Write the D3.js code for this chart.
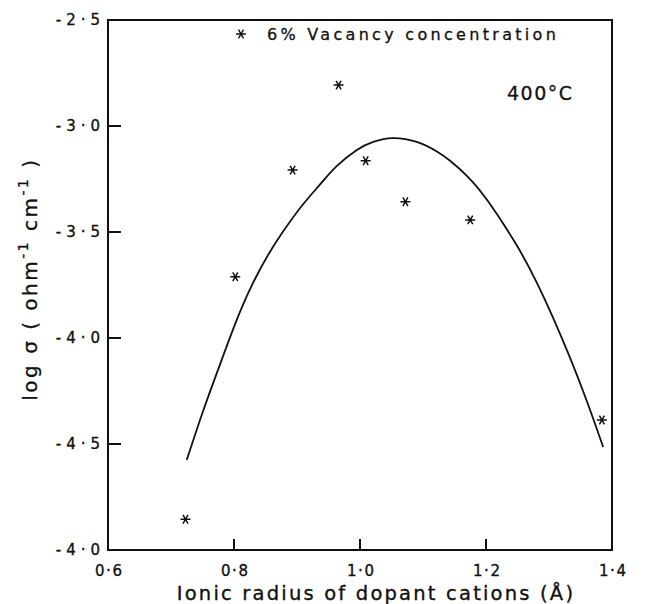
<!DOCTYPE html>
<html>
<head>
<meta charset="utf-8">
<script src="https://cdn.jsdelivr.net/npm/d3@7"></script>
<style>
  html, body { margin: 0; padding: 0; background: #fff; }
  svg { display: block; font-family: "DejaVu Sans", sans-serif; }
</style>
</head>
<body>
<svg id="chart" width="648" height="604"></svg>
<script>
// Measured conductivity at 400 °C, 6 % vacancy concentration
const radius = [0.723, 0.802, 0.893, 0.966, 1.009, 1.072, 1.175, 1.384];
const logSigma = [-4.855, -3.711, -3.208, -2.807, -3.164, -3.357, -3.443, -4.387];

// Fitted trend curve
const fitRadius = [0.725, 0.751, 0.778, 0.805, 0.830, 0.857, 0.884, 0.910, 0.937, 0.963, 0.995, 1.021,
                   1.052, 1.090, 1.122, 1.143, 1.170, 1.203, 1.249, 1.281, 1.306, 1.333, 1.360, 1.386];
const fitLogSigma = [-4.575, -4.344, -4.123, -3.910, -3.741, -3.594, -3.472, -3.368, -3.274, -3.189, -3.113, -3.075,
                     -3.057, -3.075, -3.120, -3.164, -3.236, -3.354, -3.564, -3.741, -3.901, -4.090, -4.297, -4.514];

// Axis ticks and their printed labels
const xTicks = [0.6, 0.8, 1.0, 1.2, 1.4];
const xTickLabels = ["0·6", "0·8", "1·0", "1·2", "1·4"];
const yTicks = [-2.5, -3.0, -3.5, -4.0, -4.5, -5.0];
const yTickLabels = ["-2·5", "-3·0", "-3·5", "-4·0", "-4·5", "-4·0"];

const svg = d3.select("#chart");
const frame = { left: 108, right: 612, top: 20, bottom: 550 };

const x = d3.scaleLinear().domain([0.6, 1.4]).range([frame.left, frame.right]);
const y = d3.scaleLinear().domain([-5.0, -2.5]).range([frame.bottom, frame.top]);

const ink = "#111";

// Frame
svg.append("rect")
  .attr("x", frame.left).attr("y", frame.top)
  .attr("width", frame.right - frame.left).attr("height", frame.bottom - frame.top)
  .attr("fill", "none").attr("stroke", ink).attr("stroke-width", 2);

// Bottom axis labels
const xAxis = d3.axisBottom(x)
  .tickValues(xTicks)
  .tickSize(0)
  .tickPadding(15)
  .tickFormat((d, i) => xTickLabels[i]);
const gx = svg.append("g").attr("transform", `translate(0,${frame.bottom})`).call(xAxis);
gx.select(".domain").remove();
gx.selectAll(".tick line").remove();
gx.selectAll(".tick text")
  .attr("fill", ink)
  .attr("stroke", ink).attr("stroke-width", 0.35)
  .attr("font-size", 15)
  .attr("font-family", "DejaVu Sans, sans-serif")
  .attr("letter-spacing", 1.5)
  .attr("dx", 0.75);

// Left axis labels
const yAxis = d3.axisLeft(y)
  .tickValues(yTicks)
  .tickSize(0)
  .tickPadding(8)
  .tickFormat((d, i) => yTickLabels[i]);
const gy = svg.append("g").attr("transform", `translate(${frame.left},0)`).call(yAxis);
gy.select(".domain").remove();
gy.selectAll(".tick line").remove();
gy.selectAll(".tick text")
  .attr("fill", ink)
  .attr("stroke", ink).attr("stroke-width", 0.35)
  .attr("font-size", 15)
  .attr("font-family", "DejaVu Sans, sans-serif")
  .attr("letter-spacing", 5)
  .attr("dx", 5);

// Inward tick marks on interior values
const ticks = svg.append("g").attr("stroke", ink).attr("stroke-width", 2);
ticks.selectAll("line.xt")
  .data(xTicks.slice(1, -1))
  .join("line")
  .attr("class", "xt")
  .attr("x1", d => x(d)).attr("x2", d => x(d))
  .attr("y1", frame.bottom).attr("y2", frame.bottom - 11);
ticks.selectAll("line.yt")
  .data(yTicks.slice(1, -1))
  .join("line")
  .attr("class", "yt")
  .attr("x1", frame.left).attr("x2", frame.left + 13)
  .attr("y1", d => y(d)).attr("y2", d => y(d));

// Fitted curve
const line = d3.line()
  .x((d, i) => x(fitRadius[i]))
  .y((d, i) => y(fitLogSigma[i]))
  .curve(d3.curveNatural);
svg.append("path")
  .datum(fitRadius)
  .attr("d", line)
  .attr("fill", "none")
  .attr("stroke", ink)
  .attr("stroke-width", 1.8);

// Data markers
const star = d3.symbol().type(d3.symbolAsterisk).size(70);
svg.append("g").selectAll("path")
  .data(radius)
  .join("path")
  .attr("transform", (d, i) => `translate(${x(d)},${y(logSigma[i])}) rotate(90)`)
  .attr("d", star)
  .attr("fill", "none")
  .attr("stroke", ink)
  .attr("stroke-width", 1.5);

// Legend
svg.append("path")
  .attr("transform", "translate(241,34) rotate(90)")
  .attr("d", star)
  .attr("fill", "none")
  .attr("stroke", ink)
  .attr("stroke-width", 1.4);
svg.append("text")
  .attr("x", 267).attr("y", 40)
  .attr("font-size", 16)
  .attr("letter-spacing", 3.3)
  .attr("fill", ink)
  .attr("stroke", ink).attr("stroke-width", 0.3)
  .text("6% Vacancy concentration");

// Temperature annotation
svg.append("text")
  .attr("x", 507).attr("y", 100)
  .attr("font-size", 19)
  .attr("letter-spacing", 1.5)
  .attr("fill", ink)
  .attr("stroke", ink).attr("stroke-width", 0.3)
  .text("400°C");

// X axis title
svg.append("text")
  .attr("x", 376).attr("y", 600)
  .attr("text-anchor", "middle")
  .attr("font-size", 19.5)
  .attr("letter-spacing", 2.2)
  .attr("fill", ink)
  .attr("stroke", ink).attr("stroke-width", 0.35)
  .text("Ionic radius of dopant cations (Å)");

// Y axis title
const yt = svg.append("text")
  .attr("transform", "translate(37,279) rotate(-90)")
  .attr("text-anchor", "middle")
  .attr("font-size", 20)
  .attr("letter-spacing", 2.5)
  .attr("fill", ink)
  .attr("stroke", ink).attr("stroke-width", 0.35);
yt.append("tspan").text("log σ ( ohm");
yt.append("tspan").attr("dy", -9).attr("font-size", 14).text("-1");
yt.append("tspan").attr("dy", 9).text(" cm");
yt.append("tspan").attr("dy", -9).attr("font-size", 14).text("-1");
yt.append("tspan").attr("dy", 9).text(" )");
</script>
</body>
</html>
